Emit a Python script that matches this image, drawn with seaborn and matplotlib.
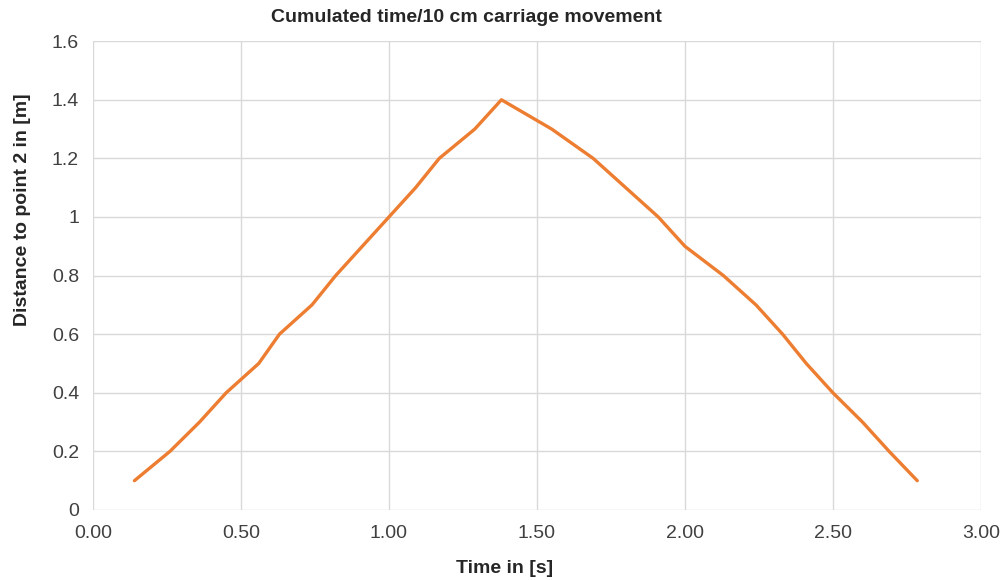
import numpy as np
import pandas as pd
import matplotlib
matplotlib.use("Agg")
import matplotlib.pyplot as plt
import seaborn as sns
from matplotlib.ticker import FuncFormatter, MultipleLocator

# cumulated time [s] for each 10 cm step, going out and back
time_s = [0.14, 0.26, 0.36, 0.45, 0.56, 0.63, 0.74, 0.82, 0.91, 1.00, 1.09, 1.17, 1.29, 1.38,
          1.55, 1.69, 1.80, 1.91, 2.00, 2.13, 2.24, 2.33, 2.41, 2.50, 2.60, 2.69, 2.785]
distance_m = [0.1, 0.2, 0.3, 0.4, 0.5, 0.6, 0.7, 0.8, 0.9, 1.0, 1.1, 1.2, 1.3, 1.4,
              1.3, 1.2, 1.1, 1.0, 0.9, 0.8, 0.7, 0.6, 0.5, 0.4, 0.3, 0.2, 0.1]

df = pd.DataFrame({"Time": time_s, "Distance": distance_m})

sns.set_style("white")
plt.rcParams['font.family'] = ['Liberation Sans', 'DejaVu Sans']

fig = plt.figure(figsize=(10.04, 5.8), dpi=100)
ax = fig.add_axes([0.0926, 0.1207, 0.977 - 0.0926, 0.929 - 0.1207])

sns.lineplot(data=df, x="Time", y="Distance", sort=False, color="#ED7D31",
             linewidth=2.4, ax=ax, solid_joinstyle="round", solid_capstyle="round")

ax.set_xlim(0, 3)
ax.set_ylim(0, 1.6)
ax.xaxis.set_major_locator(MultipleLocator(0.5))
ax.yaxis.set_major_locator(MultipleLocator(0.2))
ax.xaxis.set_major_formatter(FuncFormatter(lambda v, p: f"{v:.2f}"))
ax.yaxis.set_major_formatter(FuncFormatter(lambda v, p: f"{v:g}"))
ax.grid(True, color="#d9d9d9", linewidth=1)
ax.set_axisbelow(True)
for s in ax.spines.values():
    s.set_visible(False)
ax.tick_params(axis="both", length=0, labelsize=14, labelcolor="#404040")
ax.tick_params(axis="x", pad=11)
ax.tick_params(axis="y", pad=10)
ax.set_xlabel("")
ax.set_ylabel("")

# titles
fig.text(0.465, 0.970, "Cumulated time/10 cm carriage movement", ha="center", va="center",
         fontsize=14, fontweight="bold")
fig.text(0.503, 0.019, "Time in [s]", ha="center", va="center", fontsize=14, fontweight="bold")
fig.text(0.022, 0.638, "Distance to point 2 in [m]", ha="center", va="center", rotation=90,
         fontsize=14, fontweight="bold")

fig.savefig("out.png", dpi=100)
